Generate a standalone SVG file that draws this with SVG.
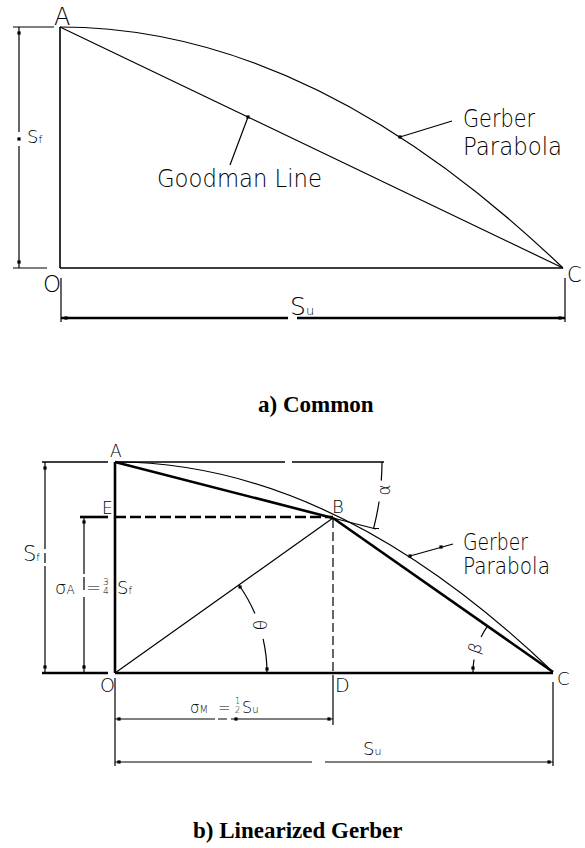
<svg xmlns="http://www.w3.org/2000/svg" xmlns:xlink="http://www.w3.org/1999/xlink" width="585" height="848" viewBox="0 0 585 848">
<defs>
<style>
.cad{font-family:"DejaVu Sans","Liberation Sans",sans-serif;font-weight:200;fill:#000}
.th{stroke:#000;stroke-width:1.2;fill:none}
.md{stroke:#000;stroke-width:1.6;fill:none}
.tk{stroke:#000;stroke-width:2.6;fill:none}
.cap{font-family:"Liberation Serif","Times New Roman",serif;font-weight:bold;font-size:23px;fill:#000}
</style>
<rect id="d" x="-1.6" y="-1.6" width="3.2" height="3.2" fill="#000"/>
</defs>
<rect width="585" height="848" fill="#fff"/>

<g id="part-a">
  <g id="a-connectors">
    <path class="md" d="M60 27V268 M60 268H563"/>
    <path class="th" d="M13 27H54 M13 268H47 M19 27V132 M19 146V268"/>
    <path class="th" d="M61 278V322 M565 278V322"/>
    <path class="tk" d="M61 318H288 M297 318H565"/>
    <line class="th" x1="60" y1="27" x2="563" y2="268"/>
    <path class="th" d="M60 27Q311.5 27 563 268"/>
    <path class="th" d="M248 117L230 165 M400 137L452 121"/>
    <use xlink:href="#d" x="19" y="33"/><use xlink:href="#d" x="19" y="262"/><use xlink:href="#d" x="19" y="139"/>
    <use xlink:href="#d" x="66" y="318"/><use xlink:href="#d" x="560" y="318"/>
    <use xlink:href="#d" x="248" y="117"/><use xlink:href="#d" x="400" y="137"/>
  </g>
  <g id="a-labels" class="cad">
    <text x="54" y="25" font-size="24">A</text>
    <text x="43" y="292" font-size="23">O</text>
    <text x="567" y="282" font-size="21">C</text>
    <text x="27" y="143" font-size="18">S<tspan font-size="11">f</tspan></text>
    <text x="290" y="315" font-size="25">S<tspan font-size="13">u</tspan></text>
    <text x="157" y="187" font-size="25" textLength="165" lengthAdjust="spacingAndGlyphs">Goodman Line</text>
    <text x="463" y="127" font-size="25" textLength="72" lengthAdjust="spacingAndGlyphs">Gerber</text>
    <text x="463" y="155" font-size="25" textLength="99" lengthAdjust="spacingAndGlyphs">Parabola</text>
  </g>
  <text id="caption-a" class="cap" x="258" y="412">a) Common</text>
</g>

<g id="part-b">
  <g id="b-connectors">
    <path class="md" d="M42 462H108 M115 462H285 M292 462H384"/>
    <path class="th" d="M382 462A267 267 0 0 1 381.3 480.6 M379.1 501.5A267 267 0 0 1 373.6 528.4 M373 528.5H379"/>
    <line class="th" x1="333" y1="518" x2="376" y2="529"/>
    <path class="tk" stroke-width="2" d="M80 517H108"/>
    <line class="tk" x1="115" y1="517" x2="333" y2="517" stroke-dasharray="11 4"/>
    <line class="th" x1="333" y1="519" x2="333" y2="673" stroke-dasharray="9 4"/>
    <path class="tk" d="M115 462V673 M42 673H108 M115 673H553"/>
    <path class="th" d="M45 462V549 M45 553V563 M45 566V673 M84 517V574 M84 577V590 M84 597V673"/>
    <line class="th" x1="115" y1="673" x2="333" y2="518"/>
    <line class="tk" x1="115" y1="462" x2="333" y2="518"/>
    <line class="tk" x1="333" y1="518" x2="553" y2="672"/>
    <path class="th" d="M115 462Q334 462 553 672"/>
    <path class="th" d="M410 556L453 544"/>
    <path class="th" d="M267 673A152 152 0 0 0 263.1 638.8 M254.9 613.6A152 152 0 0 0 238.9 585"/>
    <path class="th" d="M473 672A80 80 0 0 1 474 659.5 M481.1 636.9A80 80 0 0 1 487.5 626.1"/>
    <path class="th" d="M333 675V725 M115 678V766 M553 682V766"/>
    <path class="th" d="M115 719H215 M218 719H227 M231 719H333 M115 762H312 M325 762H553"/>
    <use xlink:href="#d" x="45" y="468"/><use xlink:href="#d" x="45" y="667"/>
    <use xlink:href="#d" x="84" y="522"/><use xlink:href="#d" x="84" y="667"/>
    <use xlink:href="#d" x="119" y="719"/><use xlink:href="#d" x="236" y="719"/><use xlink:href="#d" x="329" y="719"/>
    <use xlink:href="#d" x="119" y="762"/><use xlink:href="#d" x="549" y="762"/>
    <use xlink:href="#d" x="410" y="556"/><use xlink:href="#d" x="441" y="547"/>
    <use xlink:href="#d" x="267" y="669"/><use xlink:href="#d" x="240" y="587"/>
    <use xlink:href="#d" x="473" y="668"/>
  </g>
  <g id="b-labels" class="cad">
    <text x="110" y="457" font-size="17">A</text>
    <text x="102" y="514" font-size="17">E</text>
    <text x="332" y="513" font-size="18">B</text>
    <text x="335" y="692" font-size="19">D</text>
    <text x="100" y="692" font-size="19">O</text>
    <text x="557" y="685" font-size="18">C</text>
    <text x="23" y="561" font-size="21">S<tspan font-size="10">f</tspan></text>
    <text x="55" y="594" font-size="18">σ<tspan font-size="12">A</tspan></text>
    <text x="86" y="594" font-size="18">=</text>
    <text x="103" y="585" font-size="9">3</text>
    <text x="103" y="594" font-size="9">4</text>
    <text x="117" y="594" font-size="18">S<tspan font-size="10">f</tspan></text>
    <text x="190" y="713" font-size="15">σ<tspan font-size="10">M</tspan></text>
    <text x="218" y="713" font-size="15">=</text>
    <text x="235" y="704" font-size="8">1</text>
    <text x="235" y="713" font-size="8">2</text>
    <text x="242" y="713" font-size="16">S<tspan font-size="10">u</tspan></text>
    <text x="363" y="755" font-size="18">S<tspan font-size="11">u</tspan></text>
    <text x="463" y="550" font-size="23" textLength="65" lengthAdjust="spacingAndGlyphs">Gerber</text>
    <text x="463" y="574" font-size="23" textLength="87" lengthAdjust="spacingAndGlyphs">Parabola</text>
    <text font-size="17" text-anchor="middle" transform="translate(261 625) rotate(-90)" y="6">θ</text>
    <text font-size="17" text-anchor="middle" transform="translate(384 490) rotate(-90)" y="6">α</text>
    <text font-size="17" text-anchor="middle" transform="translate(475 648) rotate(-70)" y="6">β</text>
  </g>
  <text id="caption-b" class="cap" x="193" y="838">b) Linearized Gerber</text>
</g>
</svg>
